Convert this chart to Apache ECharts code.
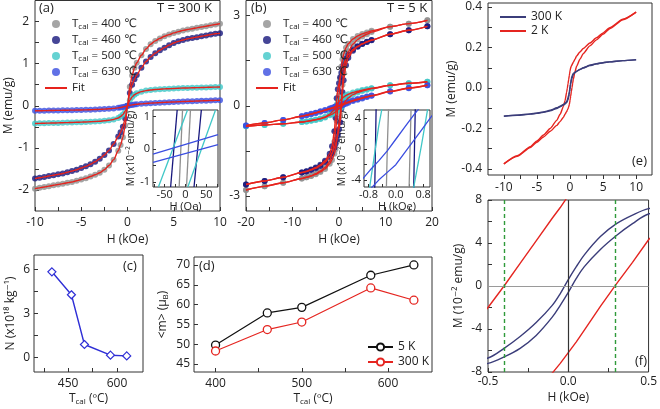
<!DOCTYPE html>
<html><head><meta charset="utf-8">
<script src="https://cdn.jsdelivr.net/npm/echarts@6/dist/echarts.min.js"></script>
<style>html,body{margin:0;padding:0;background:#fff}#c{width:660px;height:409px}</style>
</head><body><div id="c"></div>
<script>
// ---------- (a) T = 300 K ----------
const H_300K = [-10,-9.5,-9,-8.5,-8,-7.5,-7,-6.5,-6,-5.5,-5,-4.5,-4,-3.5,-3,-2.5,-2,-1.5,-1,-0.75,-0.5,-0.25,0,0.25,0.5,0.75,1,1.5,2,2.5,3,3.5,4,4.5,5,5.5,6,6.5,7,7.5,8,8.5,9,9.5,10];
const M_300K_400 = [-1.97,-1.95,-1.93,-1.91,-1.89,-1.87,-1.85,-1.83,-1.81,-1.78,-1.75,-1.72,-1.68,-1.64,-1.59,-1.52,-1.42,-1.28,-1.07,-0.93,-0.75,-0.47,0,0.45,0.72,0.9,1.02,1.2,1.35,1.46,1.54,1.6,1.65,1.69,1.73,1.76,1.79,1.81,1.83,1.85,1.87,1.89,1.91,1.93,1.95];
const M_300K_460 = [-1.73,-1.71,-1.69,-1.67,-1.65,-1.63,-1.61,-1.58,-1.55,-1.52,-1.48,-1.44,-1.39,-1.33,-1.26,-1.17,-1.06,-0.91,-0.73,-0.63,-0.5,-0.3,0,0.3,0.5,0.63,0.73,0.9,1.05,1.16,1.25,1.32,1.38,1.44,1.49,1.53,1.56,1.59,1.61,1.63,1.65,1.67,1.69,1.71,1.72];
const M_300K_500 = [-0.42,-0.418,-0.415,-0.412,-0.41,-0.407,-0.404,-0.4,-0.397,-0.393,-0.39,-0.385,-0.38,-0.374,-0.367,-0.357,-0.345,-0.325,-0.29,-0.255,-0.21,-0.13,0,0.13,0.21,0.26,0.295,0.335,0.36,0.375,0.385,0.393,0.4,0.405,0.41,0.415,0.42,0.423,0.426,0.43,0.433,0.436,0.44,0.443,0.445];
const M_300K_630 = [-0.12,-0.118,-0.116,-0.114,-0.112,-0.11,-0.108,-0.106,-0.104,-0.102,-0.1,-0.097,-0.094,-0.09,-0.086,-0.08,-0.073,-0.063,-0.05,-0.04,-0.03,-0.015,0,0.01,0.02,0.028,0.035,0.045,0.055,0.062,0.068,0.074,0.08,0.085,0.09,0.095,0.1,0.104,0.108,0.112,0.116,0.12,0.124,0.128,0.132];
// inset (a): H (Oe), M (x10^-2 emu/g)
const IA_400_dn = [[-7.1,1.2],[-15.2,-1.15]];
const IA_400_up = [[2.4,-1.15],[11.9,1.2]];
const IA_460_dn = [[-20,1.2],[-35.7,-1.15]];
const IA_460_up = [[20.5,-1.15],[38,1.2]];
const IA_500_dn = [[4.8,1.2],[-65,-1.15]];
const IA_500_up = [[5.6,-1.15],[72,1.2]];
const IA_630_dn = [[-78,-0.15],[78,0.45]];
const IA_630_up = [[-78,-0.4],[78,0.14]];
// ---------- (b) T = 5 K ----------
const H_5K = [-20,-16,-12,-8,-7,-6,-5,-4,-3,-2,-1.5,-1,-0.75,-0.5,-0.25,0,0.25,0.5,0.75,1,1.5,2,3,4,5,6,7,11,15,19];
const M_5K_400_dn = [-2.8,-2.68,-2.56,-2.42,-2.38,-2.33,-2.26,-2.17,-2.05,-1.85,-1.6,-1.2,-0.85,-0.5,0.0,0.35,0.9,1.3,1.55,1.72,1.93,2.06,2.22,2.32,2.39,2.44,2.49,2.63,2.73,2.84];
const M_5K_400_up = [-2.8,-2.68,-2.56,-2.42,-2.38,-2.34,-2.28,-2.2,-2.1,-1.93,-1.8,-1.6,-1.45,-1.2,-0.85,-0.55,-0.3,0.15,0.7,1.1,1.55,1.8,2.05,2.2,2.3,2.38,2.45,2.63,2.73,2.84];
const M_5K_460_dn = [-2.62,-2.5,-2.38,-2.22,-2.18,-2.12,-2.05,-1.96,-1.83,-1.6,-1.35,-0.85,-0.4,0.25,0.55,0.75,0.95,1.1,1.25,1.38,1.56,1.7,1.87,1.98,2.06,2.13,2.19,2.38,2.51,2.64];
const M_5K_460_up = [-2.62,-2.5,-2.38,-2.22,-2.19,-2.14,-2.08,-2.0,-1.88,-1.7,-1.57,-1.4,-1.27,-1.12,-0.97,-0.78,-0.55,-0.1,0.45,0.85,1.35,1.6,1.83,1.96,2.05,2.12,2.18,2.38,2.51,2.64];
const M_5K_500_dn = [-0.68,-0.64,-0.6,-0.54,-0.52,-0.49,-0.46,-0.42,-0.37,-0.28,-0.21,-0.12,-0.045,0.03,0.09,0.14,0.18,0.22,0.26,0.29,0.34,0.38,0.44,0.48,0.52,0.55,0.58,0.68,0.75,0.8];
const M_5K_500_up = [-0.68,-0.64,-0.6,-0.54,-0.52,-0.5,-0.47,-0.44,-0.39,-0.32,-0.28,-0.23,-0.2,-0.17,-0.13,-0.1,-0.07,-0.055,0.005,0.07,0.18,0.26,0.37,0.44,0.49,0.53,0.57,0.68,0.75,0.8];
const M_5K_630_dn = [-0.66,-0.57,-0.47,-0.35,-0.31,-0.27,-0.23,-0.185,-0.14,-0.09,-0.065,-0.04,-0.027,-0.015,-0.002,0.013,0.028,0.043,0.057,0.07,0.1,0.13,0.18,0.225,0.265,0.305,0.34,0.48,0.59,0.68];
const M_5K_630_up = [-0.66,-0.57,-0.47,-0.35,-0.32,-0.28,-0.24,-0.2,-0.155,-0.11,-0.09,-0.065,-0.052,-0.04,-0.03,-0.02,-0.005,0.01,0.025,0.04,0.07,0.1,0.155,0.2,0.245,0.29,0.33,0.47,0.58,0.68];
// ---------- (c), (d) ----------
const T_cal = [400,460,500,580,630];
const N_c = [5.85,4.28,0.88,0.15,0.1];
const m_5K = [49.8,57.9,59.3,67.4,70.0];
const m_300K = [48.3,53.7,55.6,64.2,61.1];
// ---------- (e), (f) ----------
const H_e = [-10,-8,-6,-5,-4,-3,-2,-1.5,-1,-0.75,-0.5,-0.4,-0.3,-0.2,-0.1,-0.05,0,0.05,0.1,0.2,0.3,0.4,0.5,0.75,1,1.5,2,3,4,5,6,8,10];
const M_2K_dn = [-0.375,-0.335,-0.29,-0.262,-0.232,-0.2,-0.16,-0.13,-0.092,-0.062,-0.02,0.0,0.021,0.042,0.063,0.073,0.084,0.092,0.1,0.108,0.115,0.121,0.127,0.142,0.158,0.178,0.195,0.222,0.248,0.272,0.298,0.34,0.375];
const M_2K_up = [-0.375,-0.338,-0.294,-0.268,-0.242,-0.214,-0.185,-0.166,-0.145,-0.13,-0.116,-0.11,-0.103,-0.094,-0.081,-0.072,-0.062,-0.052,-0.041,-0.019,0.002,0.022,0.043,0.08,0.108,0.142,0.17,0.208,0.238,0.266,0.293,0.337,0.375];
const M_e300_dn = [-0.139,-0.134,-0.128,-0.124,-0.118,-0.11,-0.098,-0.09,-0.081,-0.075,-0.067,-0.058,-0.047,-0.034,-0.018,-0.007,0.006,0.018,0.029,0.046,0.058,0.066,0.072,0.078,0.083,0.092,0.1,0.112,0.12,0.125,0.129,0.135,0.139];
const M_e300_up = [-0.14,-0.135,-0.129,-0.125,-0.12,-0.113,-0.101,-0.093,-0.084,-0.079,-0.072,-0.066,-0.058,-0.046,-0.029,-0.018,-0.006,0.007,0.018,0.034,0.047,0.058,0.067,0.075,0.082,0.091,0.099,0.111,0.119,0.125,0.129,0.135,0.14];
const F_Hc = [-0.4, 0.29];
// ---------- ticks ----------
const TK_a_x = [-10,-7.5,-5,-2.5,0,2.5,5,7.5,10], LB_a_x = [-10,-5,0,5,10];
const TK_a_y = [-2,-1.5,-1,-0.5,0,0.5,1,1.5,2], LB_a_y = [-2,-1,0,1,2];
const TK_ia_x = [-75,-50,-25,0,25,50,75], LB_ia_x = [-50,0,50];
const TK_ia_y = [-1,-0.5,0,0.5,1], LB_ia_y = [-1,0,1];
const TK_b_x = [-20,-15,-10,-5,0,5,10,15,20], LB_b_x = [-20,-10,0,10,20];
const TK_b_y = [-3,-1.5,0,1.5,3], LB_b_y = [-3,0,3];
const TK_ib_x = [-0.8,-0.4,0,0.4,0.8], LB_ib_x = [-0.8,0,0.8];
const TK_ib_y = [-4,-2,0,2,4], LB_ib_y = [-4,0,4];
const TK_c_x = [375,450,525,600], LB_c_x = [450,600];
const TK_c_y = [0,1.5,3,4.5,6], LB_c_y = [0,3,6];
const TK_d_x = [400,450,500,550,600], LB_d_x = [400,500,600];
const TK_d_y = [45,50,55,60,65,70], LB_d_y = [45,50,55,60,65,70];
const TK_e_x = [-10,-7.5,-5,-2.5,0,2.5,5,7.5,10], LB_e_x = [-10,-5,0,5,10];
const TK_e_y = [-0.4,-0.3,-0.2,-0.1,0,0.1,0.2,0.3,0.4], LB_e_y = [-0.4,-0.2,0,0.2,0.4];
const TK_f_x = [-0.5,-0.25,0,0.25,0.5], LB_f_x = [-0.5,0,0.5];
const TK_f_y = [-8,-6,-4,-2,0,2,4,6,8], LB_f_y = [-8,-4,0,4,8];

const FONT = '"Open Sans", "DejaVu Sans", sans-serif';
const TXT = '#222', AX = '#333';
const C400 = '#8f8f8f', C460 = '#16167c', C500 = '#3fc7c7', C630 = '#3a4de0', CFIT = '#e6231d';
const CE_N = '#3b3d7a', CE_R = '#e52520', CC = '#2f2fd6', CD_K = '#111', CD_R = '#e52520', CGREEN = '#2f9a3a';

const zip = (xs, ys) => xs.map((x, i) => [x, ys[i]]);
const pct = v => v / 100;
const rich = {
  n: {fontFamily: FONT, fontSize: 12, color: TXT},
  s: {fontFamily: FONT, fontSize: 8, color: TXT, padding: [6, 0, 0, 0]}
};

function ax(o) {
  return {
    type: 'value', gridIndex: o.g, min: o.min, max: o.max,
    name: o.name || '', nameLocation: 'middle', nameGap: o.gap || 0,
    nameTextStyle: {fontFamily: FONT, fontSize: o.nfs || 12, color: TXT, rich: rich},
    axisLine: {show: false, onZero: false},
    axisTick: {show: true, inside: !o.out, length: o.tl || 4, customValues: o.ticks, lineStyle: {color: AX, width: 1}},
    axisLabel: {show: true, customValues: o.labels, formatter: o.fmt || (v => String(v)), color: TXT,
      fontFamily: FONT, fontSize: o.fs || 12, margin: o.m == null ? 5 : o.m},
    splitLine: {show: false}
  };
}
const grid = (l, t, w, h) => ({left: l, top: t, width: w, height: h, show: true, borderColor: AX, borderWidth: 1, backgroundColor: '#fff', containLabel: false});

const fmt1 = v => (Math.abs(v) < 1e-9 ? '0.0' : v.toFixed(1));
const fmtPct = v => String(Math.round(v * 100));

const xAxis = [
  ax({g:0, min:-10, max:10, ticks:TK_a_x, labels:LB_a_x, name:'H (kOe)', gap:20, m:6}),
  ax({g:1, min:-78, max:78, ticks:TK_ia_x, labels:LB_ia_x, name:'H (Oe)', gap:13, fs:11, nfs:11, m:2, tl:3}),
  ax({g:2, min:-20, max:20, ticks:TK_b_x, labels:LB_b_x, name:'H (kOe)', gap:20, m:6}),
  ax({g:3, min:-0.93, max:1.0, ticks:TK_ib_x, labels:LB_ib_x, name:'H (kOe)', gap:13, fs:11, nfs:11, m:2, tl:3, fmt:fmt1}),
  ax({g:4, min:345, max:680, ticks:TK_c_x, labels:LB_c_x, name:'{n|T}{s|cal}{n| (ºC)}', gap:20, m:6}),
  ax({g:5, min:375, max:651, ticks:TK_d_x, labels:LB_d_x, name:'{n|T}{s|cal}{n| (ºC)}', gap:20, m:6}),
  ax({g:6, min:-12.4, max:12.4, ticks:TK_e_x, labels:LB_e_x, m:7, out:true}),
  ax({g:7, min:-0.5, max:0.5, ticks:TK_f_x, labels:LB_f_x, name:'H (kOe)', gap:20, m:4, fmt:fmt1})
];
const yAxis = [
  ax({g:0, min:-2.5, max:2.5, ticks:TK_a_y, labels:LB_a_y, name:'M (emu/g)', gap:18, m:6}),
  ax({g:1, min:-1.15, max:1.2, ticks:TK_ia_y, labels:LB_ia_y, name:'M (x10⁻² emu/g)', gap:15, fs:11, nfs:10, m:3, tl:3}),
  ax({g:2, min:-3.5, max:3.5, ticks:TK_b_y, labels:LB_b_y, m:6}),
  ax({g:3, min:-0.049, max:0.051, ticks:TK_ib_y.map(pct), labels:LB_ib_y.map(pct), name:'M (x10⁻² emu/g)', gap:15, fs:11, nfs:10, m:3, tl:3, fmt:fmtPct}),
  ax({g:4, min:-1, max:7, ticks:TK_c_y, labels:LB_c_y, name:'N (x10¹⁸ kg⁻¹)', gap:17, m:4}),
  ax({g:5, min:43, max:72, ticks:TK_d_y, labels:LB_d_y, name:'{n|<m> (μ}{s|B}{n|)}', gap:24, m:4}),
  ax({g:6, min:-0.43, max:0.42, ticks:TK_e_y, labels:LB_e_y, name:'M (emu/g)', gap:27, m:6, fmt:fmt1}),
  ax({g:7, min:-0.08, max:0.08, ticks:TK_f_y.map(pct), labels:LB_f_y.map(pct), name:'M (10⁻² emu/g)', gap:23, m:6, fmt:fmtPct})
];

const samples = [
  {n:'400', c:C400, a:M_300K_400, dn:M_5K_400_dn, up:M_5K_400_up, ia:[IA_400_dn, IA_400_up]},
  {n:'460', c:C460, a:M_300K_460, dn:M_5K_460_dn, up:M_5K_460_up, ia:[IA_460_dn, IA_460_up]},
  {n:'500', c:C500, a:M_300K_500, dn:M_5K_500_dn, up:M_5K_500_up, ia:[IA_500_dn, IA_500_up]},
  {n:'630', c:C630, a:M_300K_630, dn:M_5K_630_dn, up:M_5K_630_up, ia:[IA_630_dn, IA_630_up]}
];

const series = [];
// (a)
samples.forEach(s => series.push({type:'scatter', name:s.n, xAxisIndex:0, yAxisIndex:0, data:zip(H_300K, s.a), symbolSize:6, itemStyle:{color:s.c}, z:2}));
samples.forEach(s => series.push({type:'line', name:'Fit', xAxisIndex:0, yAxisIndex:0, data:zip(H_300K, s.a), symbol:'none', smooth:0.3, smoothMonotone:'x', lineStyle:{color:CFIT, width:1.4}, z:3}));
// inset (a)
samples.forEach(s => s.ia.forEach(d => series.push({type:'line', name:'ia'+s.n, xAxisIndex:1, yAxisIndex:1, data:d, symbol:'none', lineStyle:{color:s.c, width:1.3}, z:5})));
// (b)
samples.forEach(s => {
  series.push({type:'scatter', name:s.n, xAxisIndex:2, yAxisIndex:2, data:zip(H_5K, s.dn), symbolSize:6, itemStyle:{color:s.c}, z:2});
  series.push({type:'scatter', name:s.n, xAxisIndex:2, yAxisIndex:2, data:zip(H_5K, s.up), symbolSize:6, itemStyle:{color:s.c}, z:2});
});
samples.forEach(s => {
  series.push({type:'line', name:'Fit', xAxisIndex:2, yAxisIndex:2, data:zip(H_5K, s.dn), symbol:'none', smooth:0.25, smoothMonotone:'x', lineStyle:{color:CFIT, width:1.4}, z:3});
  series.push({type:'line', name:'Fit', xAxisIndex:2, yAxisIndex:2, data:zip(H_5K, s.up), symbol:'none', smooth:0.25, smoothMonotone:'x', lineStyle:{color:CFIT, width:1.4}, z:3});
});
// inset (b)
samples.forEach(s => [s.dn, s.up].forEach(m => series.push({type:'line', name:'ib'+s.n, xAxisIndex:3, yAxisIndex:3, data:zip(H_5K, m), symbol:'none', lineStyle:{color:s.c, width:1.3}, z:5})));
// (c)
series.push({type:'line', name:'N', xAxisIndex:4, yAxisIndex:4, data:zip(T_cal, N_c), symbol:'diamond', symbolSize:8, showAllSymbol:true,
  itemStyle:{color:'#fff', borderColor:CC, borderWidth:1.2}, lineStyle:{color:CC, width:1.4}});
// (d)
series.push({type:'line', name:'d5', xAxisIndex:5, yAxisIndex:5, data:zip(T_cal, m_5K), symbol:'circle', symbolSize:8,
  itemStyle:{color:'#fff', borderColor:CD_K, borderWidth:1.3}, lineStyle:{color:CD_K, width:1.2}});
series.push({type:'line', name:'d300', xAxisIndex:5, yAxisIndex:5, data:zip(T_cal, m_300K), symbol:'circle', symbolSize:8,
  itemStyle:{color:'#fff', borderColor:CD_R, borderWidth:1.3}, lineStyle:{color:CD_R, width:1.2}});
// (e)
[M_2K_dn, M_2K_up].forEach(m => series.push({type:'line', name:'e2', xAxisIndex:6, yAxisIndex:6, data:zip(H_e, m), symbol:'none', smooth:0.2, smoothMonotone:'x', lineStyle:{color:CE_R, width:1.4}, z:2}));
[M_e300_dn, M_e300_up].forEach(m => series.push({type:'line', name:'e300', xAxisIndex:6, yAxisIndex:6, data:zip(H_e, m), symbol:'none', smooth:0.2, smoothMonotone:'x', lineStyle:{color:CE_N, width:1.4}, z:3}));
// (f)
series.push({type:'line', name:'fz', xAxisIndex:7, yAxisIndex:7, data:[], symbol:'none', z:1,
  markLine:{silent:true, symbol:'none', label:{show:false}, animation:false, data:[
    {yAxis:0, lineStyle:{color:'#9a9a9a', type:'solid', width:1.2}},
    {xAxis:0, lineStyle:{color:'#333', type:'solid', width:1.2}},
    {xAxis:F_Hc[0], lineStyle:{color:CGREEN, type:[4,3], width:1.4}},
    {xAxis:F_Hc[1], lineStyle:{color:CGREEN, type:[4,3], width:1.4}}
  ]}});
[M_2K_dn, M_2K_up].forEach(m => series.push({type:'line', name:'f2', xAxisIndex:7, yAxisIndex:7, data:zip(H_e, m), symbol:'none', lineStyle:{color:CE_R, width:1.4}, z:2}));
[M_e300_dn, M_e300_up].forEach(m => series.push({type:'line', name:'f300', xAxisIndex:7, yAxisIndex:7, data:zip(H_e, m), symbol:'none', smooth:0.35, lineStyle:{color:CE_N, width:1.4}, z:3}));

const legRich = {
  t: {fontFamily: FONT, fontSize: 11.5, color: TXT},
  s: {fontFamily: FONT, fontSize: 8, color: TXT, padding: [6, 0, 0, 0]}
};
const tcalFmt = n => n === 'Fit' ? '{t|Fit}' : '{t|T}{s|cal}{t| = ' + n + ' ℃}';
const hideSym = {opacity: 0};
const legendAB = (left) => ({data:['400','460','500','630',{name:'Fit', itemStyle:hideSym}], left:left, top:13, orient:'vertical', itemWidth:22, itemHeight:8, itemGap:3,
  selectedMode:false, formatter:tcalFmt, textStyle:{rich:legRich, fontFamily:FONT, fontSize:11.5, color:TXT}});
const legNames = {d5:'5 K', d300:'300 K', e300:'300 K', e2:'2 K'};

const title = (t, l, tp) => ({text:t, left:l, top:tp, padding:0, textStyle:{fontFamily:FONT, fontSize:13, fontWeight:'normal', color:TXT}});

const option = {
  animation: false,
  textStyle: {fontFamily: FONT},
  grid: [grid(35,0.5,185,210.5), grid(153,110,65,77), grid(246,0.5,186,210.5), grid(364,110,66,77),
         grid(34,255,109,117), grid(194,257,238,115), grid(488,3,164,172), grid(488,200,164,172)],
  xAxis, yAxis, series,
  legend: [
    legendAB(39), legendAB(250),
    {data:['d5','d300'], left:362, top:336, orient:'vertical', itemWidth:25, itemHeight:9, itemGap:3, selectedMode:false,
      formatter:n => legNames[n], textStyle:{fontFamily:FONT, fontSize:12, color:TXT}},
    {data:[{name:'e300', itemStyle:hideSym}, {name:'e2', itemStyle:hideSym}], left:494, top:6, orient:'vertical', itemWidth:26, itemHeight:8, itemGap:2, selectedMode:false,
      formatter:n => legNames[n], textStyle:{fontFamily:FONT, fontSize:12, color:TXT}}
  ],
  title: [title('(a)',39,2), title('T = 300 K',157,2), title('(b)',251,2), title('T = 5 K',387,2),
          title('(c)',123,260), title('(d)',199,260), title('(e)',632,155), title('(f)',635,355)]
};
const chart = echarts.init(document.getElementById('c'), null, {renderer:'canvas'});
chart.setOption(option);
</script></body></html>
